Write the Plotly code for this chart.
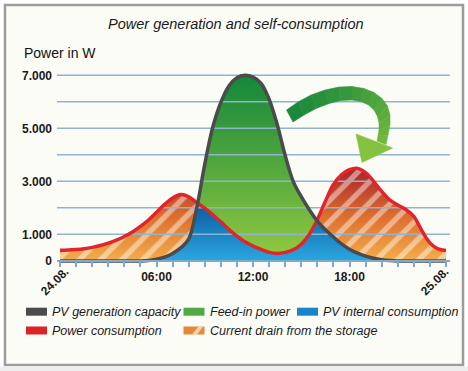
import numpy as np
import plotly.graph_objects as go

# ---------------- data ----------------
hours = [0, 0.5, 1, 1.5, 2, 2.5, 3, 3.5, 4, 4.5, 5, 5.5, 6, 6.5, 7, 7.5, 8, 8.5,
         9, 9.5, 10, 10.5, 11, 11.5, 12, 12.5, 13, 13.5, 14, 14.5, 15, 15.5, 16,
         16.5, 17, 17.5, 18, 18.5, 19, 19.5, 20, 20.5, 21, 21.5, 22, 22.5, 23, 23.5, 24]

pv_generation = [0, 0, 0, 0, 0, 0, 0, 0, 0, 0, 0, 15, 60, 140, 280, 490, 820, 2000,
                 3650, 5050, 5980, 6600, 6910, 7000, 6930, 6700, 6100, 5150, 3980, 3000, 2420, 1930, 1500,
                 1170, 900, 640, 440, 290, 180, 100, 45, 15, 0, 0, 0, 0, 0, 0, 0]

power_consumption = [400, 410, 430, 460, 510, 580, 670, 780, 920, 1090, 1300, 1540, 1830, 2130, 2370, 2500, 2420, 2200,
                     1990, 1740, 1470, 1190, 930, 720, 560, 430, 320, 280, 320, 420, 630, 1000, 1560,
                     2250, 2880, 3250, 3440, 3490, 3330, 3000, 2620, 2300, 2110, 1940, 1680, 1140, 680, 450, 390]

series_names = ["PV generation capacity", "Feed-in power", "PV internal consumption",
                "Power consumption", "Current drain from the storage"]

y_tick_values = [0, 1000, 2000, 3000, 4000, 5000, 6000, 7000]
y_tick_labels = ["0", "1.000", "", "3.000", "", "5.000", "", "7.000"]
x_tick_values = [6, 12, 18]
x_tick_labels = ["06:00", "12:00", "18:00"]
hour_ticks = list(range(25))
date_labels = ["24.08.", "25.08."]

title_text = "Power generation and self-consumption"
y_title = "Power in W"

# ---------------- layout geometry ----------------
W, H = 468, 371
L, R, T, B = 57, 18, 70, 108
XR = [-0.19, 24.25]
YR = [-80, 7200]
PW, PH = W - L - R, H - T - B


def px_x(px):
    return XR[0] + (px - L) / PW * (XR[1] - XR[0])


def px_y(py):
    return YR[0] + (T + PH - py) / PH * (YR[1] - YR[0])


def paper_x(px):
    return (px - L) / PW


def paper_y(py):
    return (T + PH - py) / PH


pv = np.array(pv_generation, dtype=float)
cons = np.array(power_consumption, dtype=float)
internal = np.minimum(pv, cons)

SANS = "Liberation Sans, Arial, sans-serif"
GRID = "#8fb4d0"

fig = go.Figure()

# storage drain (orange gradient under consumption)
fig.add_trace(go.Scatter(
    x=hours, y=cons, mode="lines", line=dict(width=0, shape="spline"),
    fill="tozeroy",
    fillgradient=dict(type="vertical",
                      colorscale=[[0, "#f4ad4a"], [0.5, "#de6f2f"], [1, "#ae2a2b"]],
                      start=0, stop=3300),
    hoverinfo="skip", showlegend=False))
# stripes
fig.add_trace(go.Scatter(
    x=hours, y=cons, mode="lines", line=dict(width=0, shape="spline"),
    fill="tozeroy", fillcolor="rgba(0,0,0,0)",
    fillpattern=dict(shape="/", size=15, solidity=0.36, fgcolor="white",
                     fgopacity=0.45, bgcolor="rgba(0,0,0,0)"),
    hoverinfo="skip", showlegend=False))
# feed-in (green)
fig.add_trace(go.Scatter(
    x=hours, y=pv, mode="lines", line=dict(width=0, shape="spline"),
    fill="tozeroy",
    fillgradient=dict(type="vertical",
                      colorscale=[[0, "#8fc740"], [1, "#13873b"]],
                      start=300, stop=7000),
    hoverinfo="skip", showlegend=False))
# internal consumption (blue)
fig.add_trace(go.Scatter(
    x=hours, y=internal, mode="lines", line=dict(width=0, shape="spline"),
    fill="tozeroy",
    fillgradient=dict(type="vertical",
                      colorscale=[[0, "#2aa8e0"], [1, "#0a58a0"]],
                      start=0, stop=2200),
    hoverinfo="skip", showlegend=False))

# grid lines above fills
gx, gy = [], []
for v in y_tick_values[1:]:
    gx += [XR[0], XR[1], None]
    gy += [v, v, None]
fig.add_trace(go.Scatter(x=gx, y=gy, mode="lines", line=dict(color=GRID, width=1.5),
                         hoverinfo="skip", showlegend=False))

# consumption line
fig.add_trace(go.Scatter(x=hours, y=cons, mode="lines",
                         line=dict(color="#e1252b", width=3.5, shape="spline"),
                         name=series_names[3], showlegend=False))
# PV line
fig.add_trace(go.Scatter(x=hours, y=pv, mode="lines",
                         line=dict(color="#4b4b4b", width=3.5, shape="spline"),
                         name=series_names[0], showlegend=False))

shapes = []
# frame
shapes.append(dict(type="rect", xref="paper", yref="paper",
                   x0=paper_x(5), x1=paper_x(463), y0=paper_y(365), y1=paper_y(5),
                   line=dict(color="#9c9c9c", width=2.5), fillcolor="#fcfcf7", layer="below"))
shapes.append(dict(type="rect", xref="paper", yref="paper",
                   x0=paper_x(0), x1=paper_x(468), y0=paper_y(371), y1=paper_y(366.5),
                   line=dict(width=0), fillcolor="#eeeeee", layer="below"))

# curved arrow (pixel geometry converted to data coords)
outer = [(286.5, 110), (298, 102), (311, 95), (325, 90), (339, 87), (352, 86.5), (364, 88.5),
         (374, 92.5), (382, 98.5), (387.5, 106), (390, 115), (390, 125), (388, 135), (386, 144.6)]
inner = [(293, 122), (304, 115), (316, 108.5), (329, 103.5), (341, 100.5), (352, 100), (361, 101.5),
         (368.5, 105), (374, 110), (377.5, 116.5), (379, 123), (379, 130), (378, 136), (377, 141)]
c0 = np.array([0x19, 0x89, 0x3d])
c1 = np.array([0x72, 0xb8, 0x3e])
n = len(outer)
for i in range(n - 1):
    t = i / (n - 2)
    c = (c0 * (1 - t) + c1 * t).astype(int)
    col = "rgb(%d,%d,%d)" % tuple(c)
    pts = [outer[i], outer[i + 1], inner[i + 1], inner[i]]
    path = "M " + " L ".join("%f,%f" % (px_x(a), px_y(b)) for a, b in pts) + " Z"
    shapes.append(dict(type="path", xref="x", yref="y", path=path,
                       fillcolor=col, line=dict(color=col, width=0.6), layer="above"))
head = [(356, 134), (392.5, 148), (362, 162.5)]
path = "M " + " L ".join("%f,%f" % (px_x(a), px_y(b)) for a, b in head) + " Z"
shapes.append(dict(type="path", xref="x", yref="y", path=path,
                   fillcolor="#84c23f", line=dict(color="#84c23f", width=0.6), layer="above"))

# legend swatches
legend_items = [
    (26, 311.7, "#4b4b4b", series_names[0]),
    (183.5, 311.7, "#52a845", series_names[1]),
    (297, 311.7, "#1786c9", series_names[2]),
    (26, 330.5, "#db232a", series_names[3]),
    (183.5, 330.5, "#e2893b", series_names[4]),
]
annotations = []
for (sx, sy, col, name) in legend_items:
    shapes.append(dict(type="rect", xref="paper", yref="paper",
                       x0=paper_x(sx), x1=paper_x(sx + 21), y0=paper_y(sy + 4), y1=paper_y(sy - 4),
                       fillcolor=col, line=dict(width=0), layer="above"))
    annotations.append(dict(xref="paper", yref="paper", x=paper_x(sx + 24), y=paper_y(sy),
                            xanchor="left", yanchor="middle", showarrow=False, text="<i>%s</i>" % name,
                            font=dict(family=SANS, size=12.5, color="#1a1a1a")))
# stripe on storage swatch
sw = [(192, 334.5), (197, 334.5), (203.5, 326.5), (198.5, 326.5)]
shapes.append(dict(type="path", xref="paper", yref="paper",
                   path="M " + " L ".join("%f,%f" % (paper_x(a), paper_y(b)) for a, b in sw) + " Z",
                   fillcolor="rgba(255,235,210,0.75)", line=dict(width=0), layer="above"))

# title and axis title
annotations.append(dict(xref="paper", yref="paper", x=paper_x(236), y=paper_y(24),
                        xanchor="center", yanchor="middle", showarrow=False,
                        text="<i>%s</i>" % title_text,
                        font=dict(family=SANS, size=14.5, color="#1a1a1a")))
annotations.append(dict(xref="paper", yref="paper", x=paper_x(22), y=paper_y(53),
                        xanchor="left", yanchor="middle", showarrow=False, text=y_title,
                        font=dict(family=SANS, size=14, color="#111111")))
# rotated date labels
for lbl, cx in zip(date_labels, [54, 434]):
    annotations.append(dict(xref="paper", yref="paper", x=paper_x(cx), y=paper_y(281.5),
                            xanchor="center", yanchor="middle", showarrow=False, text=lbl,
                            textangle=-45,
                            font=dict(family=SANS, size=12, color="#1a1a1a", weight="bold")))

fig.update_layout(
    width=W, height=H,
    margin=dict(l=L, r=R, t=T, b=B, pad=0, autoexpand=False),
    paper_bgcolor="white", plot_bgcolor="rgba(0,0,0,0)",
    shapes=shapes, annotations=annotations,
    showlegend=False,
)
fig.update_xaxes(range=XR, showgrid=False, zeroline=False, automargin=False,
                 anchor="free", position=paper_y(260.9),
                 showline=True, linecolor="#7fa9cc", linewidth=1.5,
                 tickmode="array", tickvals=x_tick_values, ticktext=x_tick_labels,
                 ticks="outside", ticklen=5, tickwidth=1.5, tickcolor="#7fa9cc",
                 minor=dict(tickmode="array", tickvals=hour_ticks, ticks="outside",
                            ticklen=5, tickwidth=1.5, tickcolor="#7fa9cc", showgrid=False),
                 tickfont=dict(family=SANS, size=12, color="#1a1a1a", weight="bold"))
fig.update_yaxes(range=YR, showgrid=False, zeroline=False, showline=False, automargin=False,
                 tickmode="array", tickvals=y_tick_values, ticktext=y_tick_labels,
                 ticks="", ticklabelstandoff=4,
                 tickfont=dict(family=SANS, size=12, color="#1a1a1a", weight="bold"))

fig.write_html("out.html", config={"displayModeBar": False},
               post_script="document.body.style.margin='0px';")
